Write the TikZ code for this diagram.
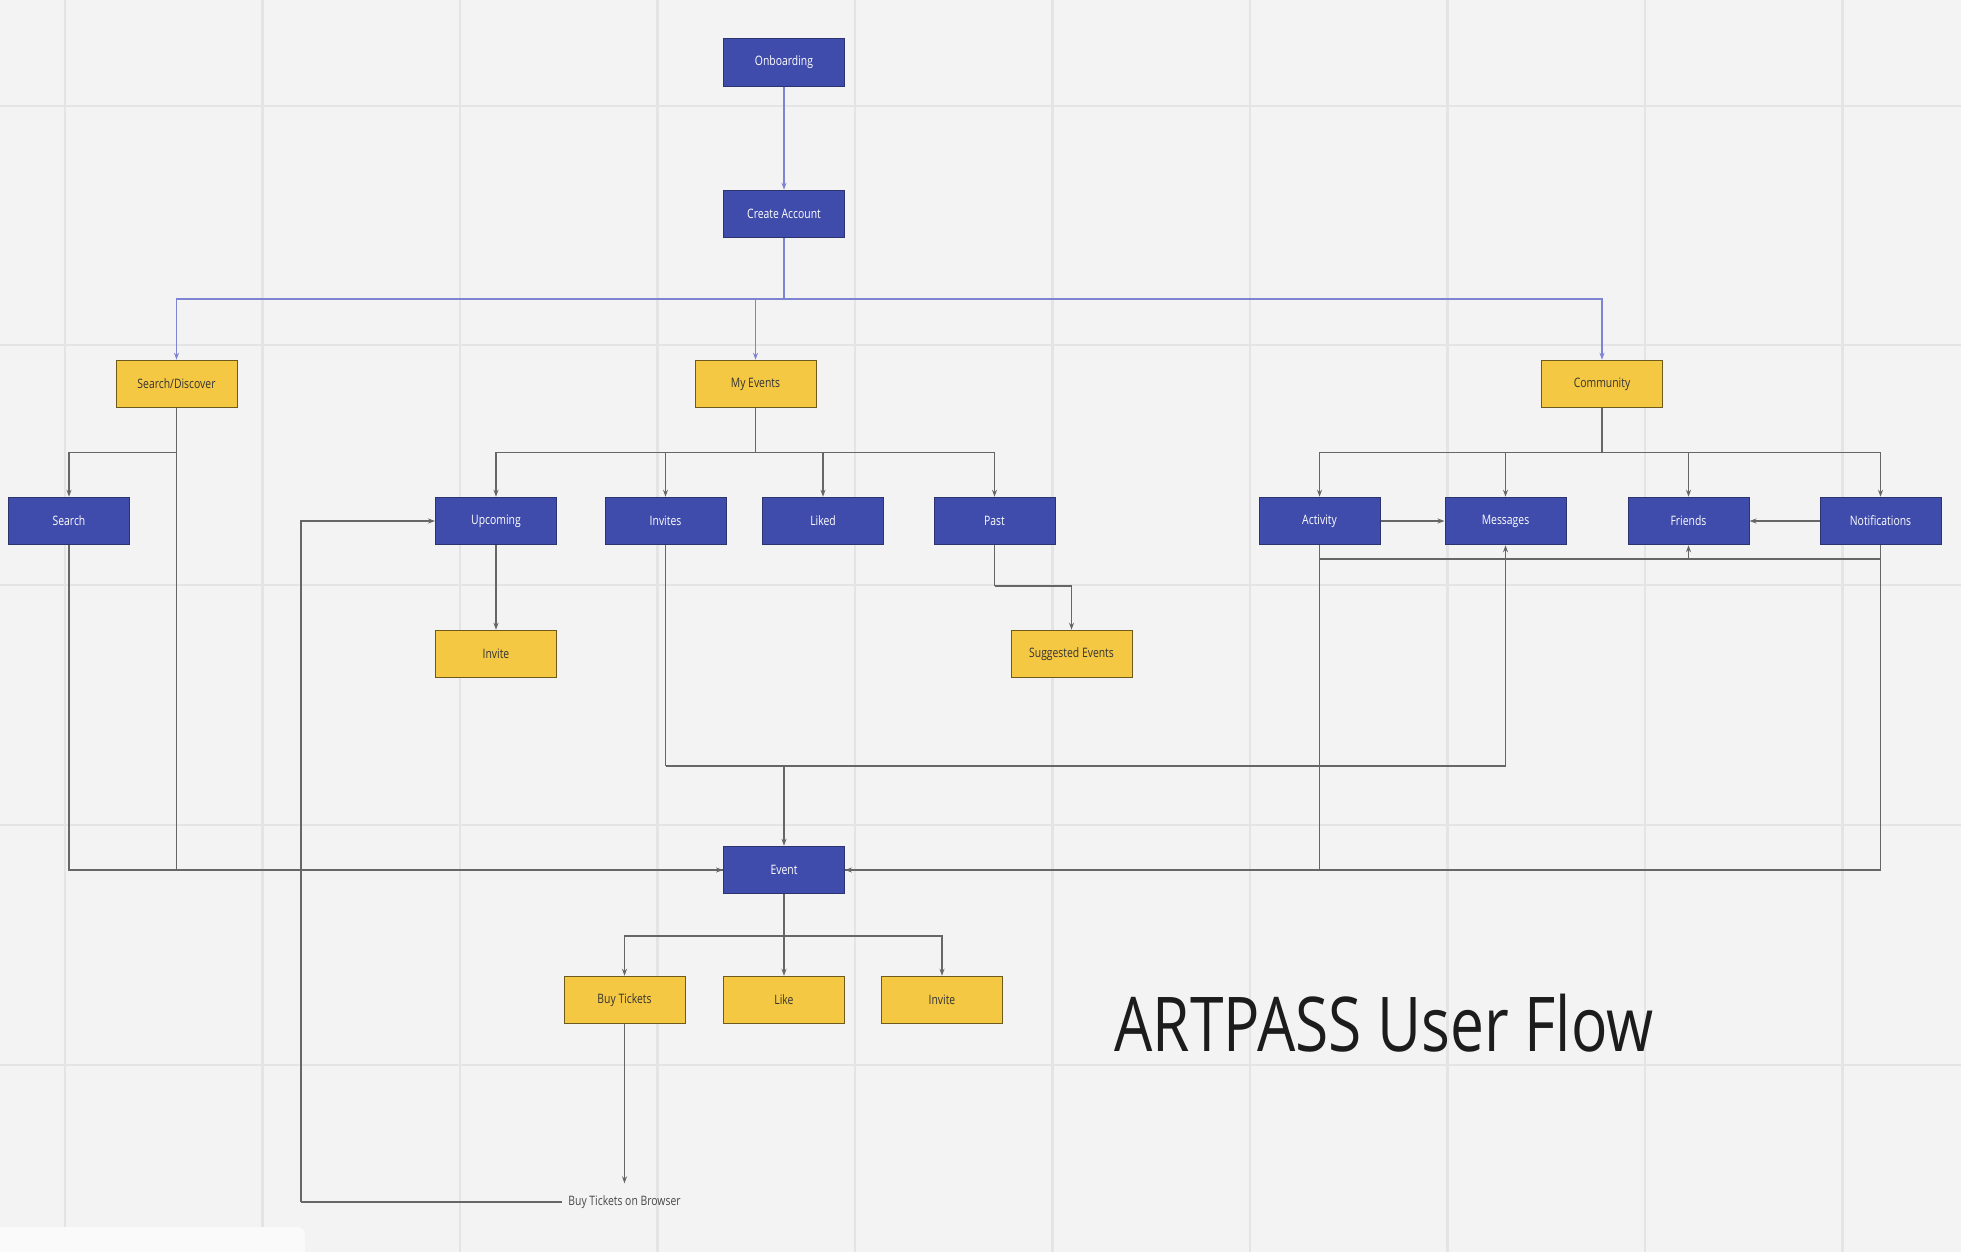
\documentclass[tikz,border=0pt]{standalone}
\usepackage{fontspec}
\newfontfamily\osf{Open Sans}[FakeStretch=0.8]
\usetikzlibrary{arrows.meta}
\definecolor{bgc}{HTML}{F3F3F3}
\definecolor{gridc}{HTML}{E4E4E4}
\definecolor{boxblue}{HTML}{404CAB}
\definecolor{blueedge}{HTML}{2C3470}
\definecolor{boxyel}{HTML}{F4C843}
\definecolor{yeledge}{HTML}{6E5B1C}
\definecolor{lnc}{HTML}{666666}
\definecolor{blc}{HTML}{7E84D4}
\definecolor{txtdark}{HTML}{333333}
\begin{document}
\begin{tikzpicture}[x=1pt,y=-1pt,
  bluebox/.style={rectangle,draw=blueedge,fill=boxblue,line width=1pt,minimum width=121pt,minimum height=47.5pt,inner sep=0pt,font=\osf\fontsize{13}{15}\selectfont,text=white},
  yelbox/.style={rectangle,draw=yeledge,fill=boxyel,line width=1pt,minimum width=121pt,minimum height=47.5pt,inner sep=0pt,font=\osf\fontsize{13}{15}\selectfont,text=txtdark},
  ln/.style={draw=lnc,line width=1.15pt},
  bln/.style={draw=blc,line width=1.2pt},
  arr/.style={-{Stealth[length=7pt,width=5pt]}},
]
\useasboundingbox (0,0) rectangle (1961,1252);
\fill[bgc] (0,0) rectangle (1961,1252);
% grid
\foreach \gx in {65,262.5,460,657.5,855,1052.5,1250,1447.5,1645,1842.5}
  \draw[gridc,line width=2.5pt] (\gx,0) -- (\gx,1252);
\foreach \gy in {106,345,585,825,1065}
  \draw[gridc,line width=2.5pt] (0,\gy) -- (1961,\gy);
% white panel bottom-left
\fill[white!60!bgc,rounded corners=8pt] (-10,1227) rectangle (305,1270);

% nodes
\node[bluebox] (onb) at (784,62.5) {Onboarding};
\node[bluebox] (ca) at (784,214) {Create Account};
\node[yelbox] (sd) at (176.5,384) {Search/Discover};
\node[yelbox] (me) at (755.5,384) {My Events};
\node[yelbox] (com) at (1602,384) {Community};
\node[bluebox] (search) at (69,521) {Search};
\node[bluebox] (up) at (496,521) {Upcoming};
\node[bluebox] (invites) at (665.5,521) {Invites};
\node[bluebox] (liked) at (823,521) {Liked};
\node[bluebox] (past) at (994.5,521) {Past};
\node[bluebox] (act) at (1319.5,521) {Activity};
\node[bluebox] (msg) at (1505.5,521) {Messages};
\node[bluebox] (fr) at (1688.5,521) {Friends};
\node[bluebox] (notif) at (1880.5,521) {Notifications};
\node[yelbox] (inv1) at (496,654) {Invite};
\node[yelbox] (sug) at (1071.5,654) {Suggested Events};
\node[bluebox] (ev) at (784,870) {Event};
\node[yelbox] (buy) at (624.5,1000) {Buy Tickets};
\node[yelbox] (like) at (784,1000) {Like};
\node[yelbox] (inv2) at (942,1000) {Invite};
\node[font=\osf\fontsize{13}{15}\selectfont,text=txtdark!90!white,inner xsep=6pt,inner ysep=12pt] (browser) at (624.5,1202) {Buy Tickets on Browser};
\node[font=\osf\fontsize{75.6}{80}\selectfont,text=black!89,inner sep=0pt] (title) at (1384,1023) {ARTPASS User Flow};

% junction coordinates
\coordinate (bj) at (784,299);
\coordinate (sdj) at (176.5,452.5);
\coordinate (mej) at (755.5,452.5);
\coordinate (cj) at (1602,452.5);
\coordinate (pj) at (994.5,586);
\coordinate (ij) at (665.5,766);
\coordinate (ej) at (784,766);
\coordinate (aj) at (1319.5,559);
\coordinate (nj) at (1880.5,559);
\coordinate (evj) at (784,936);
\coordinate (bl) at (301,1202);

% blue connectors
\draw[bln,arr] (onb.south) -- (ca.north);
\draw[bln] (ca.south) -- (bj);
\draw[bln,arr] (bj) -| (sd.north);
\draw[bln,arr] (bj) -| (me.north);
\draw[bln,arr] (bj) -| (com.north);

% search/discover
\draw[ln] (sd.south) -- (sdj);
\draw[ln,arr] (sdj) -| (search.north);
\draw[ln,arr] (sdj) |- (ev.west);
\draw[ln] (search.south) |- (ev.west);

% my events
\draw[ln] (me.south) -- (mej);
\draw[ln,arr] (mej) -| (up.north);
\draw[ln,arr] (mej) -| (invites.north);
\draw[ln,arr] (mej) -| (liked.north);
\draw[ln,arr] (mej) -| (past.north);
\draw[ln,arr] (up.south) -- (inv1.north);
\draw[ln] (past.south) -- (pj);
\draw[ln,arr] (pj) -| (sug.north);

% invites route
\draw[ln] (invites.south) -- (ij);
\draw[ln,arr] (ij) -| (msg.south);
\draw[ln,arr] (ej) -- (ev.north);

% community
\draw[ln] (com.south) -- (cj);
\draw[ln,arr] (cj) -| (act.north);
\draw[ln,arr] (cj) -| (msg.north);
\draw[ln,arr] (cj) -| (fr.north);
\draw[ln,arr] (cj) -| (notif.north);
\draw[ln,arr] (act.east) -- (msg.west);
\draw[ln,arr] (notif.west) -- (fr.east);
\draw[ln] (act.south) -- (aj) -- (nj) -- (notif.south);
\draw[ln,arr] (fr.south |- aj) -- (fr.south);
\draw[ln,arr] (aj) |- (ev.east);
\draw[ln] (nj) |- (ev.east);

% event
\draw[ln] (ev.south) -- (evj);
\draw[ln,arr] (evj) -| (buy.north);
\draw[ln,arr] (evj) -- (like.north);
\draw[ln,arr] (evj) -| (inv2.north);
\draw[ln,arr] (buy.south) -- (browser.north);
\draw[ln] (browser.west) -- (bl);
\draw[ln,arr] (bl) |- (up.west);
\end{tikzpicture}
\end{document}
